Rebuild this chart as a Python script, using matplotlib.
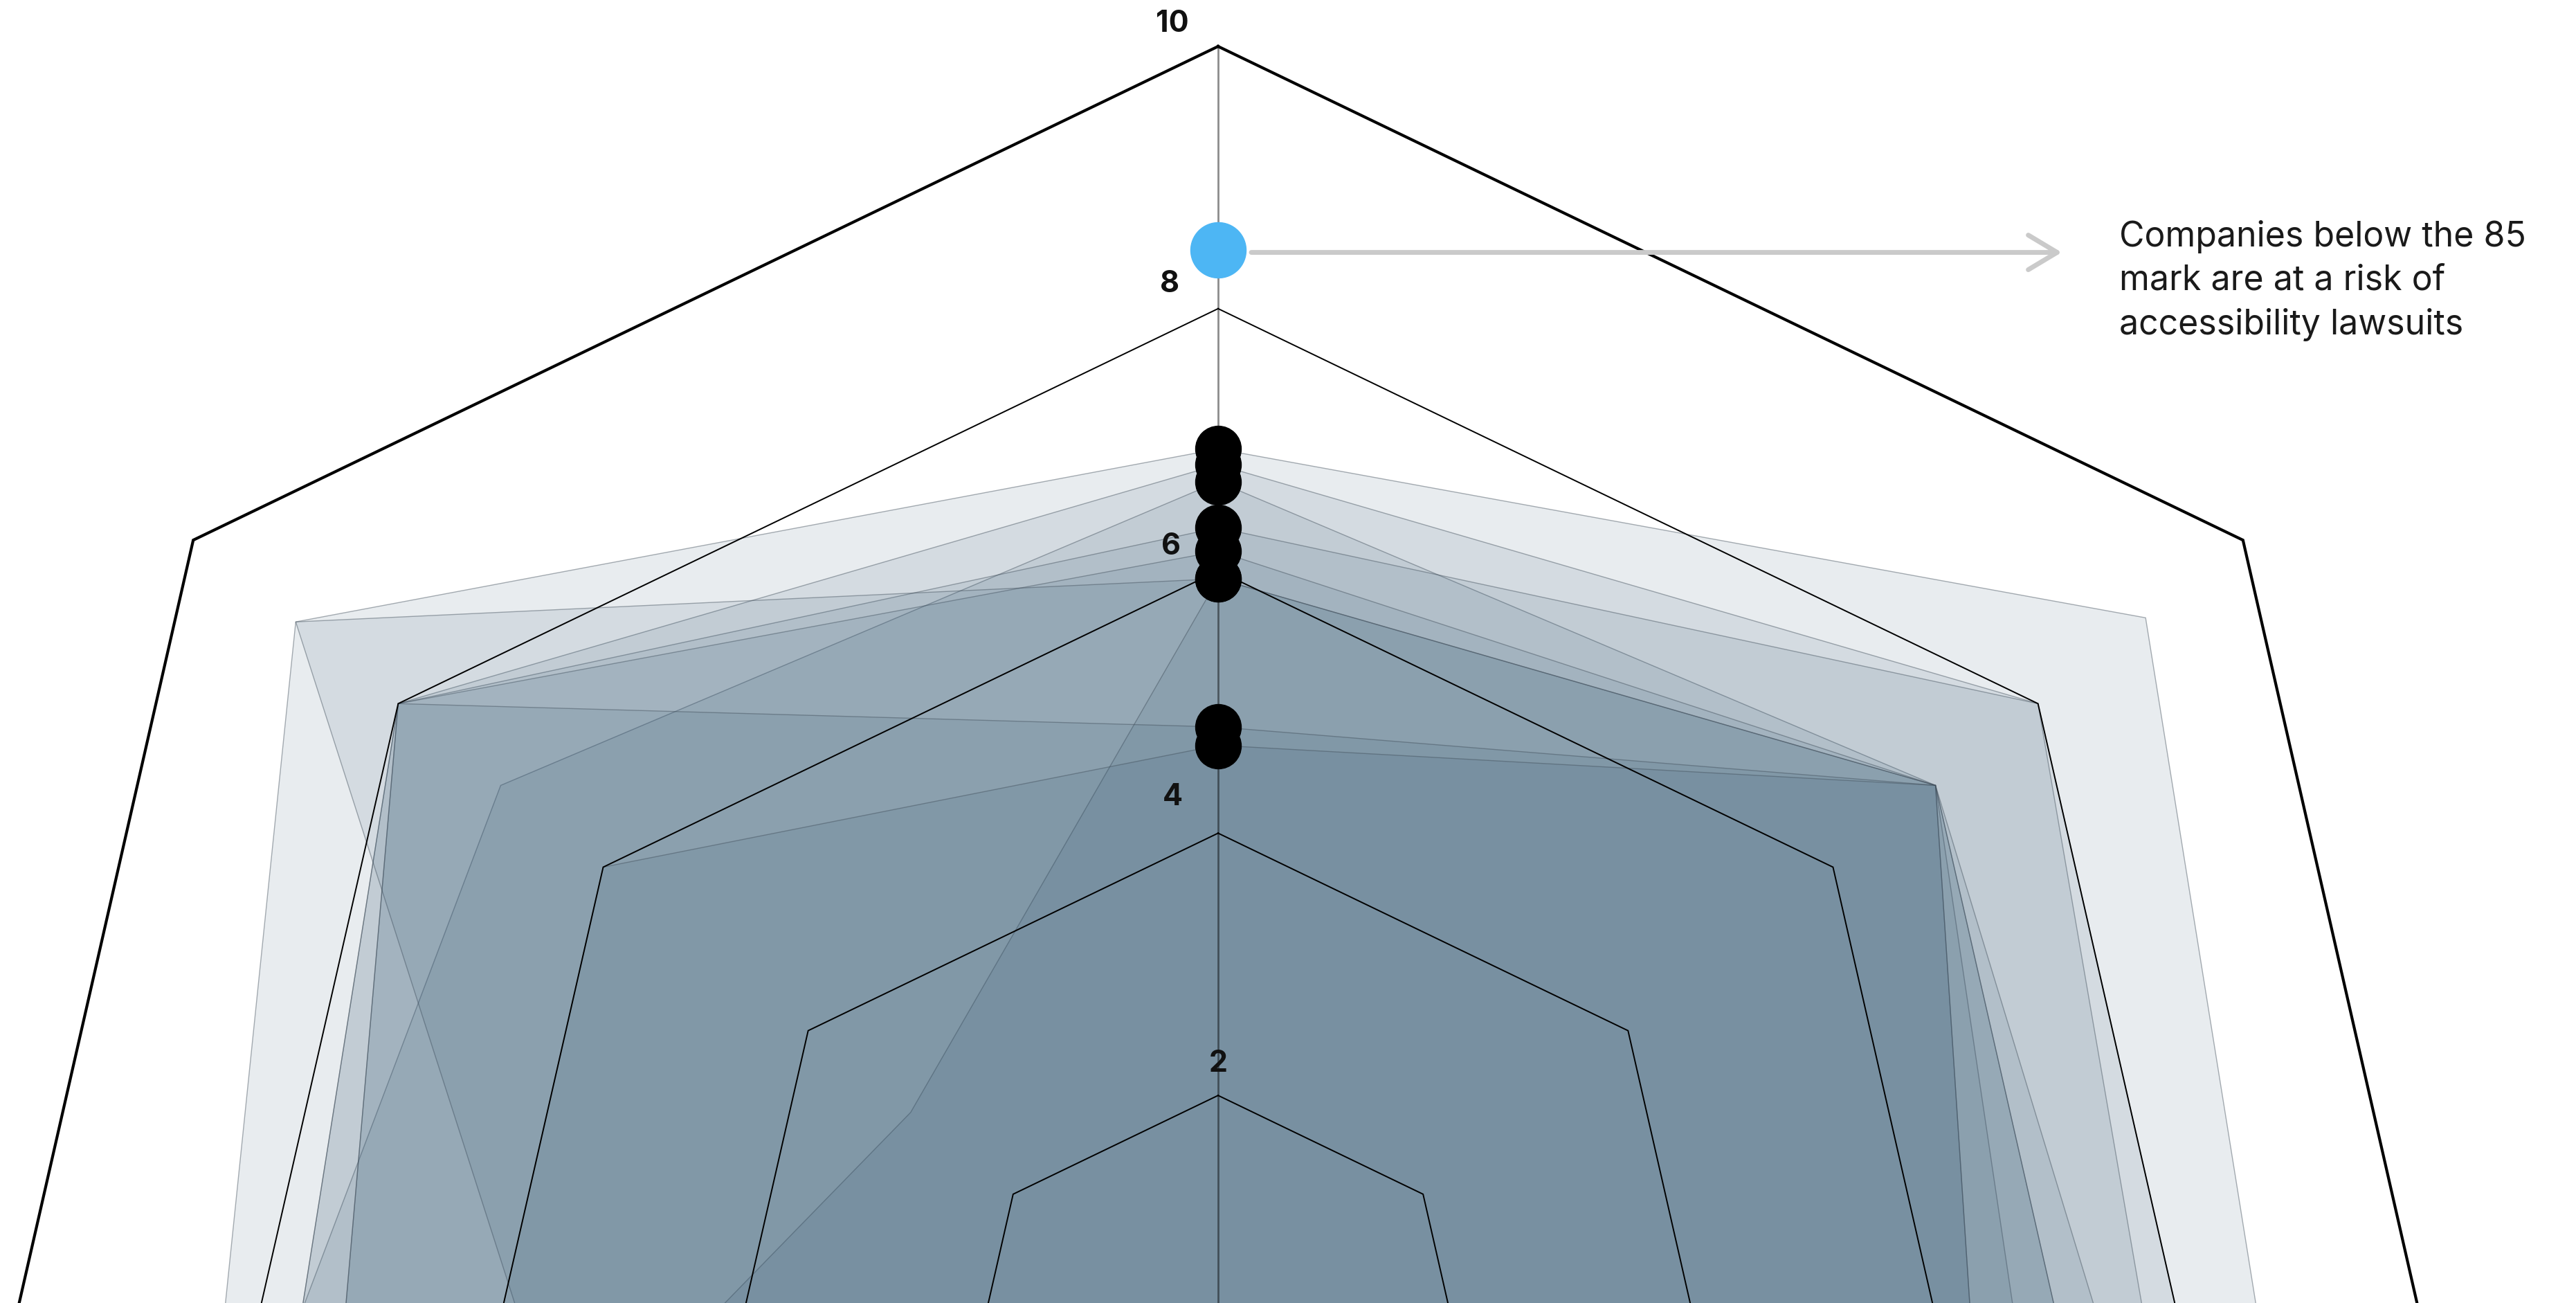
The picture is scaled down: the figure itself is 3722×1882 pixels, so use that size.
import numpy as np
import matplotlib
matplotlib.use("Agg")
import matplotlib.pyplot as plt

plt.rcParams['font.family'] = ['Inter', 'DejaVu Sans']

# ---------------- data ----------------
axis_count = 7
ring_levels = [2, 4, 6, 8, 10]
ring_labels = ['2', '4', '6', '8', '10']
threshold = 8.45
annotation_text = "Companies below the 85\nmark are at a risk of\naccessibility lawsuits"

# scores per company on the 7 axes (clockwise from top)
company_1 = [6.93, 9.05, 8.5, 8.0, 8.0, 8.0, 9.0]
company_2 = [6.81, 8.0, 8.0, 7.5, 7.5, 7.5, 8.0]
company_3 = [6.68, 7.0, 7.0, 7.0, 7.0, 8.0, 7.0]
company_4 = [6.33, 8.0, 7.6, 7.0, 7.0, 7.0, 8.0]
company_5 = [6.15, 7.0, 6.0, 6.5, 6.0, 7.5, 8.0]
company_6 = [5.94, 7.0, 7.5, 6.0, 6.0, 5.0, 9.0]
company_7 = [5.94, 7.0, 6.5, 6.0, 5.5, 5.5, 3.0]
company_8 = [4.81, 7.0, 7.0, 6.5, 6.5, 7.0, 8.0]
company_9 = [4.67, 7.0, 6.0, 6.0, 6.0, 6.0, 6.0]
companies = [company_1, company_2, company_3, company_4, company_5,
             company_6, company_7, company_8, company_9]

# ---------------- layout ----------------
W, H = 3722, 1883
fig = plt.figure(figsize=(W / 100, H / 100), dpi=100)
cx, cy_top = 1760, 1962          # radar centre in pixels (from top-left)
px_per_unit = 189.4
rmax = 10.5
R = rmax * px_per_unit
ax = fig.add_axes([(cx - R) / W, (H - cy_top - R) / H, 2 * R / W, 2 * R / H],
                  projection='polar')
ax.set_theta_zero_location('N')
ax.set_theta_direction(-1)
ax.set_ylim(0, rmax)
ax.set_xticks([])
ax.set_yticks([])
ax.grid(False)
ax.spines['polar'].set_visible(False)
ax.patch.set_visible(False)

angles = np.linspace(0, 2 * np.pi, axis_count, endpoint=False)
closed = np.append(angles, angles[0])

fill_rgb = (50 / 255, 88 / 255, 115 / 255)
# company polygons
for vals in companies:
    v = np.append(vals, vals[0])
    ax.fill(closed, v, facecolor=fill_rgb + (0.11,),
            edgecolor=(0.25, 0.30, 0.35, 0.45), lw=1.0, zorder=2)

# heptagon grid rings
for lvl in ring_levels:
    ax.plot(closed, [lvl] * len(closed), color='black',
            lw=3.0 if lvl == 10 else 1.4, zorder=3, solid_joinstyle='miter')

# vertical axis line
ax.plot([0, 0], [0, 10], color='black', alpha=0.45, lw=2.0, zorder=3)

# ring labels
label_offsets = {10: (-66, 33), 8: (-70, 36), 6: (-68, 36), 4: (-66, 53), 2: (0, 47)}
for lvl, lab in zip(ring_levels, ring_labels):
    dx, dy = label_offsets[lvl]
    ax.annotate(lab, xy=(0, lvl), xytext=(dx, dy), textcoords='offset pixels',
                ha='center', va='center', fontsize=31, fontweight='bold',
                color='#111111', zorder=7, annotation_clip=False)

# company top-axis scores as black dots
tops = [c[0] for c in companies]
ax.plot(np.zeros(len(tops)), tops, 'o', ms=47.5, color='black', zorder=5)

# threshold dot
ax.plot([0], [threshold], 'o', ms=57.6, color='#4db6f4', zorder=6)

# arrow to annotation
dot_px = ax.transData.transform((0, threshold))
ax.annotate('', xy=(2979, dot_px[1] - 4), xycoords='figure pixels',
            xytext=(dot_px[0] + 48, dot_px[1] - 4), textcoords='figure pixels',
            arrowprops=dict(arrowstyle='->,head_length=1.5,head_width=0.9',
                            color='#cacaca', lw=5, shrinkA=0, shrinkB=0,
                            mutation_scale=20),
            annotation_clip=False)

fig.text(3062 / W, 1 - 318 / H, annotation_text, ha='left', va='top',
         fontsize=36, linespacing=1.43, color='#1a1a1a')

fig.savefig('out.png', dpi=100)
